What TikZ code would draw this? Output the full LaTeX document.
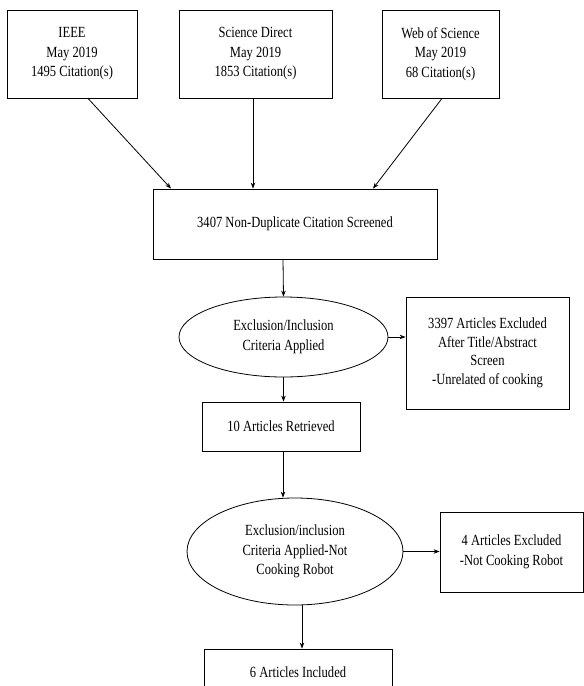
\documentclass[tikz,border=0pt]{standalone}
\usepackage{fontspec}
\setmainfont[FakeStretch=0.81]{Liberation Serif}
\usetikzlibrary{arrows.meta,shapes.geometric}
\begin{document}
\begin{tikzpicture}[x=1pt,y=-1pt,
  every node/.style={font=\fontsize{15.5}{19.5}\selectfont, align=center, inner sep=0pt},
  boxnode/.style={draw, line width=0.8pt, rectangle},
  ellnode/.style={draw, line width=0.8pt, ellipse},
  arr/.style={line width=0.8pt, -{Stealth[length=6pt,width=4.5pt]}}]
\clip (0,0) rectangle (584,686);
\node[boxnode, minimum width=130pt, minimum height=88pt] (ieee) at (72,54) {IEEE\\May 2019\\1495 Citation(s)};
\node[boxnode, minimum width=153pt, minimum height=88pt] (sd) at (255.5,54) {Science Direct\\May 2019\\1853 Citation(s)};
\node[boxnode, minimum width=117pt, minimum height=88pt] (wos) at (440.5,54) {Web of Science\\May 2019\\68 Citation(s)};
\node[boxnode, minimum width=284pt, minimum height=70pt] (screen) at (295,224) {3407 Non-Duplicate Citation Screened};
\node[ellnode, minimum width=209pt, minimum height=80pt] (ell1) at (283.5,337) {Exclusion/Inclusion\\Criteria Applied};
\node[boxnode, minimum width=163pt, minimum height=112pt, font=\fontsize{15.5}{18.5}\selectfont] (ex1) at (487.5,353) {3397 Articles Excluded\\After Title/Abstract\\Screen\\-Unrelated of cooking};
\node[boxnode, minimum width=158pt, minimum height=49pt] (ret) at (281,426.5) {10 Articles Retrieved};
\node[ellnode, minimum width=216pt, minimum height=107pt] (ell2) at (295,551.5) {Exclusion/inclusion\\Criteria Applied-Not\\Cooking Robot};
\node[boxnode, minimum width=143pt, minimum height=80pt] (ex2) at (511.5,552) {4 Articles Excluded\\-Not Cooking Robot};
\node[boxnode, minimum width=188pt, minimum height=46pt] (inc) at (298,672) {6 Articles Included};
\draw[arr] ([xshift=16pt]ieee.south) -- ([xshift=-124pt]screen.north);
\draw[arr] ([xshift=-2.5pt]sd.south) -- ([xshift=-42pt]screen.north);
\draw[arr] ([xshift=1.5pt]wos.south) -- ([xshift=78pt]screen.north);
\draw[arr] ([xshift=-12pt]screen.south) -- (ell1.north);
\draw[arr] (ell1.east) -- (ex1.west |- ell1.east);
\draw[arr] (ell1.south) -- (ell1.south |- ret.north);
\draw[arr] ([xshift=2pt]ret.south) -- ([xshift=-12pt]ell2.north);
\draw[arr] (ell2.east) -- (ex2.west |- ell2.east);
\draw[arr] ([xshift=7pt]ell2.south) -- ([xshift=4pt]inc.north);
\end{tikzpicture}
\end{document}
